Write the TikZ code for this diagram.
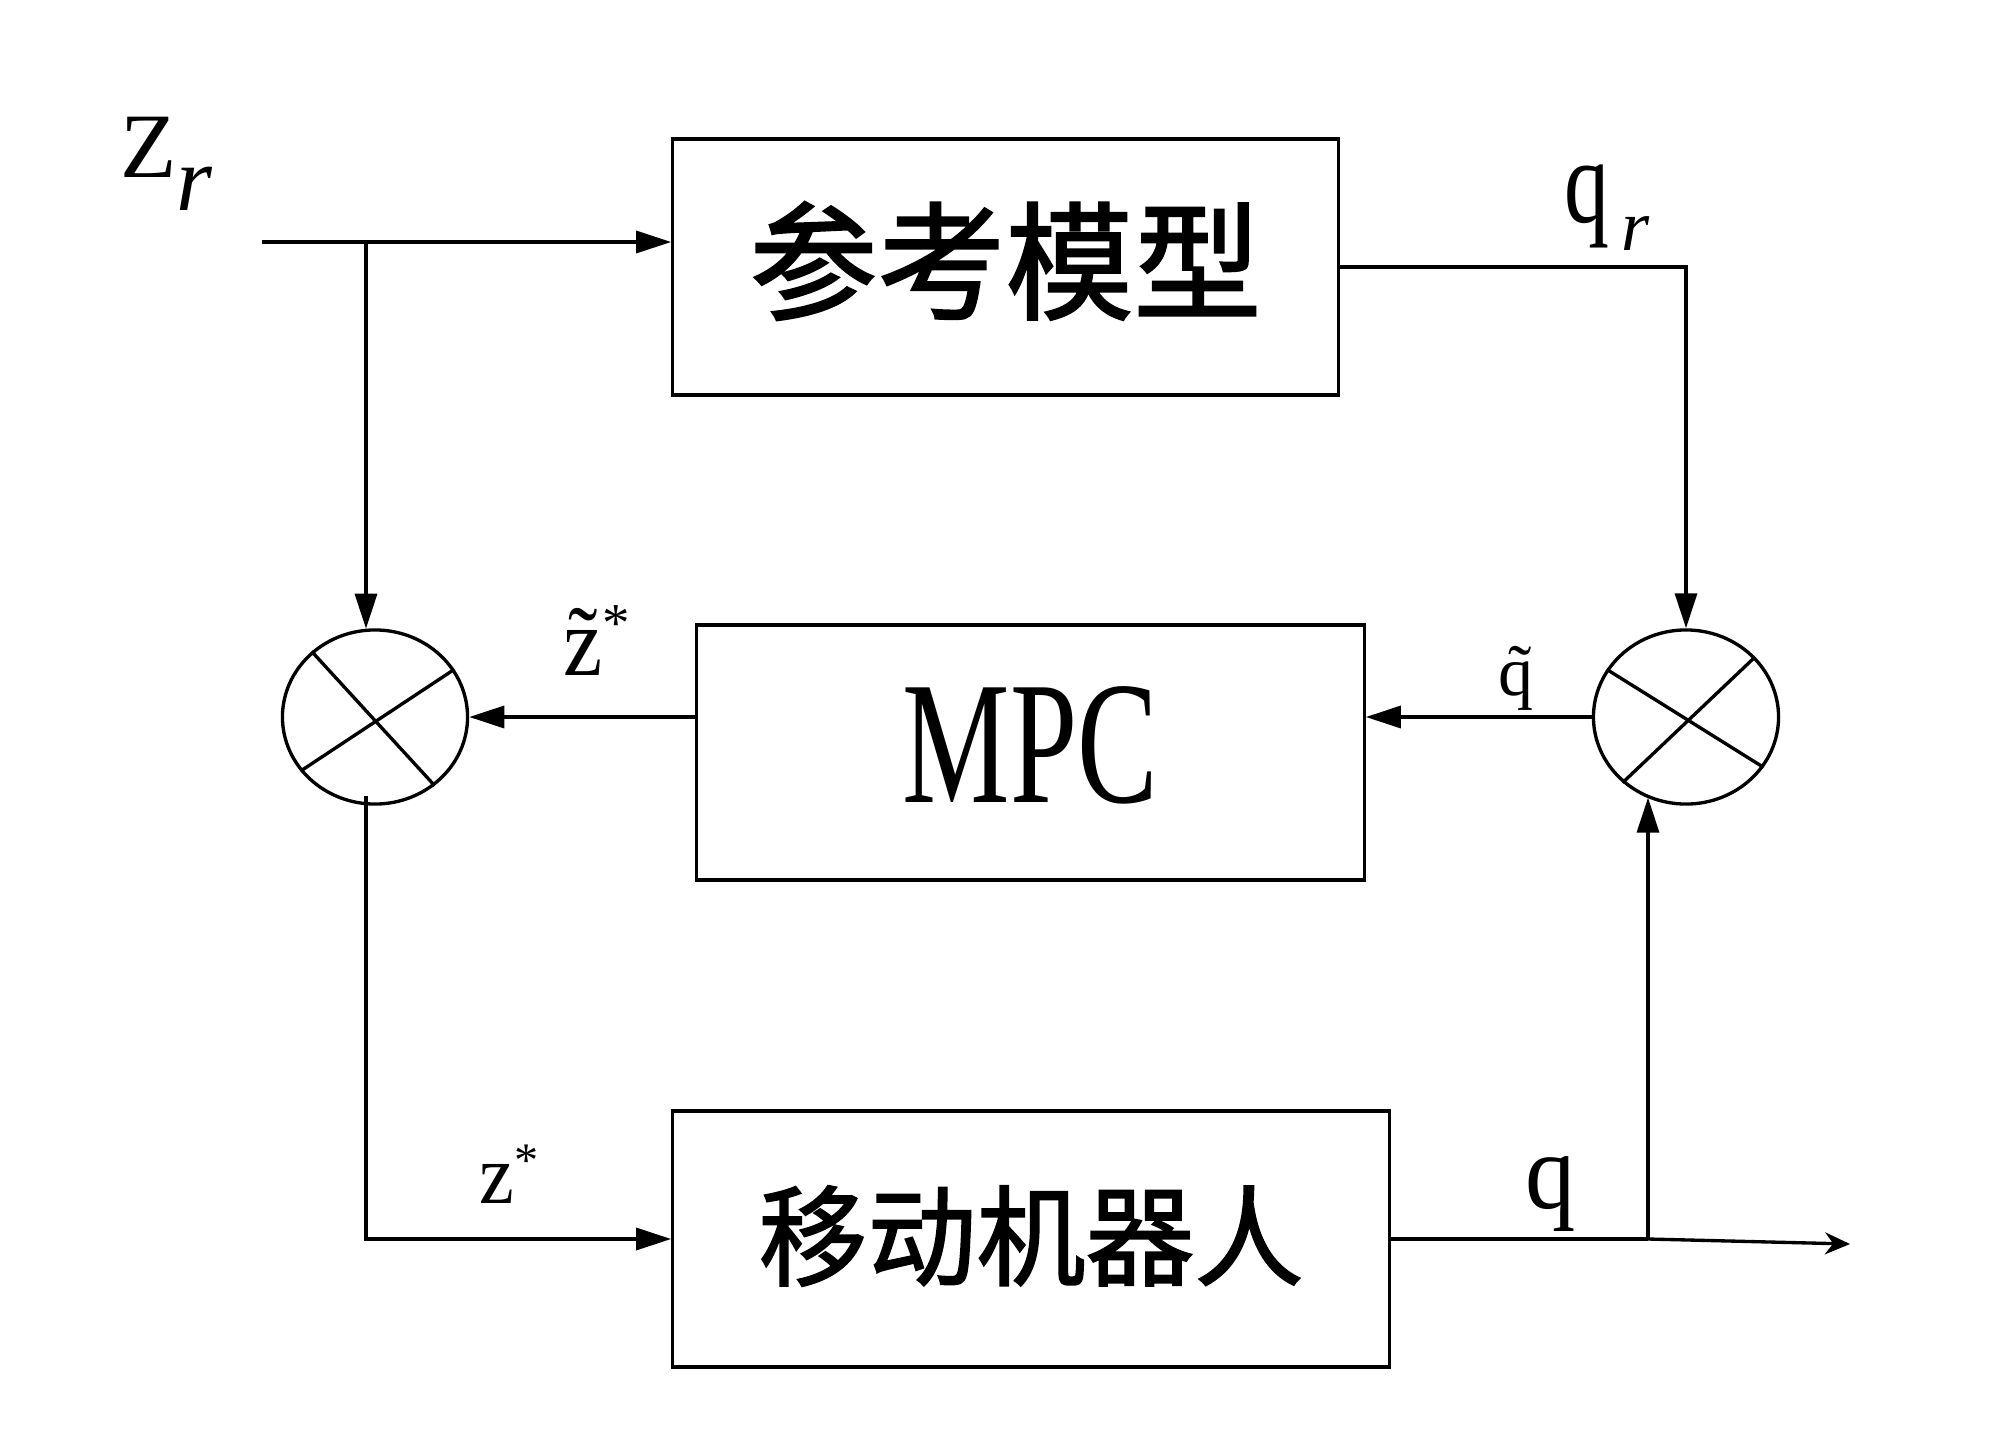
\documentclass[tikz,border=0pt]{standalone}
\usepackage{graphicx}
\usepackage{fontspec}
\setmainfont{Liberation Serif}
\newfontfamily\cjk{Noto Sans CJK SC}[FakeBold=1.6]
\usetikzlibrary{arrows.meta,shapes.geometric,calc}
\begin{document}
\begin{tikzpicture}[x=0.01cm,y=-0.01cm, line width=0.95pt,
  blk/.style={draw, rectangle, inner sep=0pt},
  sumj/.style={draw, ellipse, minimum width=1.85cm, minimum height=1.74cm, inner sep=0pt},
  arr/.style={-{Triangle[length=0.35cm,width=0.22cm]}},
  lbl/.style={anchor=base west, inner sep=0pt}]
\useasboundingbox[fill=white] (0,0) rectangle (2000,1430);
% blocks
\node[blk, minimum width=6.65cm, minimum height=2.56cm] (ref) at (1005.5,267)
  {\fontsize{36.4pt}{40pt}\selectfont\cjk\raisebox{0.06cm}[\height][\depth]{参考模型}};
\node[blk, minimum width=6.67cm, minimum height=2.55cm] (mpc) at (1030.5,752.5)
  {\fontsize{49.8pt}{55pt}\selectfont\raisebox{0.07cm}[\height][\depth]{\scalebox{0.69}[1]{MPC}}};
\node[blk, minimum width=7.16cm, minimum height=2.56cm] (rob) at (1031,1239)
  {\fontsize{31pt}{35pt}\selectfont\cjk\raisebox{0.03cm}[\height][\depth]{移动机器人}};
% summing junctions
\node[sumj] (lc) at (375,717) {};
\node[sumj] (rc) at (1686,717) {};
\draw (lc.134) -- (lc.311);
\draw (lc.31) -- (lc.216);
\draw (rc.149) -- (rc.327);
\draw (rc.41) -- (rc.226);
% free ends and junctions
\coordinate (in) at (262,242);
\coordinate (br) at (366,242);
\coordinate (j2) at (1648,1239);
\coordinate (oe) at (1850,1244);
% connectors
\draw[arr] (in) -- (in -| ref.west);
\draw[arr] (br) -- (br |- lc.96);
\draw[arr] (ref.east) -| (rc.north);
\draw[arr] (rc.west) -- (rc.west -| mpc.east);
\draw[arr] (mpc.west |- lc.east) -- (lc.east);
\draw[arr] ($(br |- lc.264)+(0,-9)$) |- (rob.west);
\draw (rob.east) -- (j2);
\draw[arr] (j2) -- (j2 |- rc.244);
\draw[-{Stealth[length=0.25cm,width=0.22cm]}] (j2) -- (oe);
% labels
\node[lbl] (zr) at (119,177) {\fontsize{26.2pt}{30pt}\selectfont Z\raisebox{-0.33cm}{\itshape r}};
\node[lbl] (qr) at (1563,222) {\fontsize{34.1pt}{38pt}\selectfont\scalebox{0.75}[1]{q}\hspace{0.12cm}\raisebox{-0.28cm}{\fontsize{20.5pt}{24pt}\selectfont\itshape r}};
\node[lbl] (zt) at (562,675) {\fontsize{27.9pt}{32pt}\selectfont\scalebox{0.9}[1]{\~{z}}\raisebox{0.33cm}{\fontsize{15.6pt}{18pt}\selectfont *}};
\node[lbl] (qt) at (1497,695) {\fontsize{19.9pt}{24pt}\selectfont \~{q}};
\node[lbl] (zs) at (478,1203) {\fontsize{24.2pt}{28pt}\selectfont\scalebox{0.92}[1]{z}\raisebox{0.27cm}{\fontsize{13.7pt}{16pt}\selectfont *}};
\node[lbl] (q) at (1524,1208) {\fontsize{30.7pt}{35pt}\selectfont\scalebox{0.93}[1]{q}};
\end{tikzpicture}
\end{document}
